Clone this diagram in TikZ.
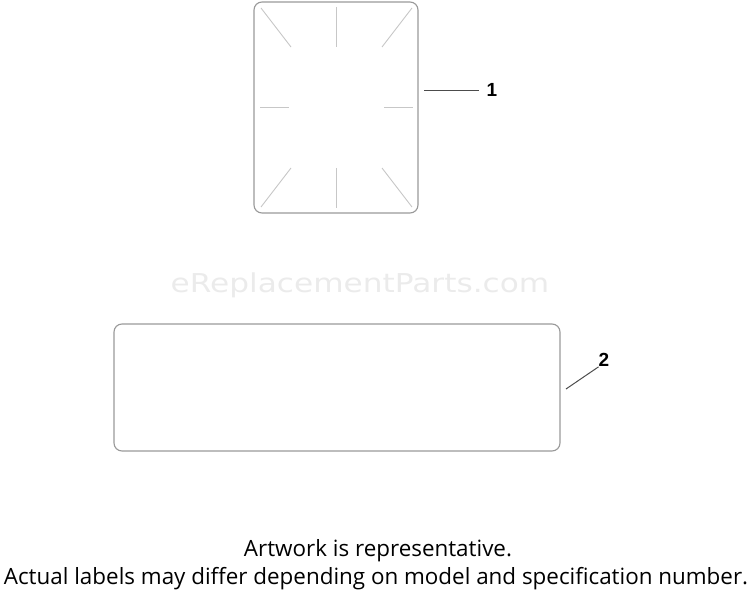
\documentclass[tikz,border=0pt]{standalone}
\usepackage{fontspec}
\setmainfont{Open Sans}
\newfontfamily\calloutfont{Liberation Sans}
\newfontfamily\markfont{DejaVu Sans}
\usetikzlibrary{positioning}

\begin{document}
\begin{tikzpicture}[
            x={(1pt,0pt)},
            y={(0pt,-1pt)},
            decal/.style={draw=black!40, line width=1.1pt, rounded corners=8pt, inner sep=0pt},
            tick/.style={draw=black!22, line width=0.9pt},
            leader/.style={draw=black!70, line width=1pt},
            callout/.style={font=\calloutfont\bfseries\fontsize{19}{19}\selectfont, inner sep=0pt},
            note/.style={font=\fontsize{22.4}{26}\selectfont, inner sep=0pt},
        ]
        \useasboundingbox (0,0) rectangle (750,599);
        % watermark
        \node[font=\markfont\fontsize{26}{26}\selectfont, text=black!8, xscale=1.2, transform shape] (mark) at (360,285) {eReplacementParts.com};
        % TOP: decal 1
        \node[decal, minimum width=164pt, minimum height=211pt] (decalA) at (336,107.5) {};
        \draw[tick] (261,8) -- (291,47);
        \draw[tick] (336,7) -- (336,47);
        \draw[tick] (412,8) -- (382,47);
        \draw[tick] (260,107) -- (289,107);
        \draw[tick] (384,107) -- (413,107);
        \draw[tick] (291,168) -- (261,207);
        \draw[tick] (336,168) -- (336,208);
        \draw[tick] (382,168) -- (412,207);
        \node[callout] (numA) at (492,90) {1};
        \coordinate (tipA) at (424,91);
        \draw[leader] (tipA) -- ([xshift=-8pt]numA.west |- tipA);
        % BOTTOM: decal 2
        \node[decal, minimum width=446pt, minimum height=127pt] (decalB) at (337,387.5) {};
        \node[callout] (numB) at (604,360) {2};
        \coordinate (tipB) at (566,389);
        \draw[leader] (tipB) -- (numB.south west);
        % note
        \node[note] (noteA) at (378,551) {Artwork is representative.};
        \node[note] (noteB) at (376,579) {Actual labels may differ depending on model and specification number.};
        \end{tikzpicture}
\end{document}
